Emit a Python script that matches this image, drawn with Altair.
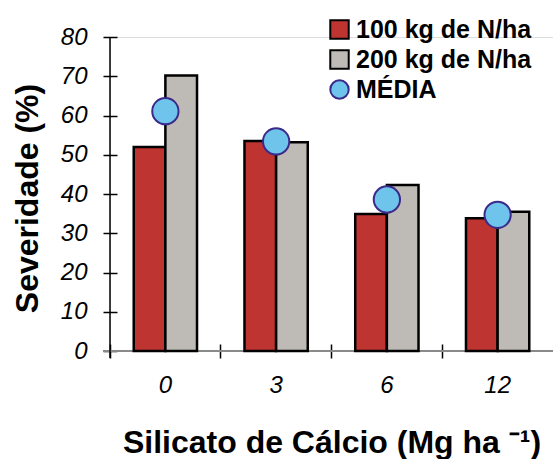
import altair as alt
import pandas as pd

categories = ["0", "3", "6", "12"]
series_names = ["100 kg de N/ha", "200 kg de N/ha"]
media_name = "MÉDIA"
n100 = [52.0, 53.5, 34.9, 33.8]
n200 = [70.2, 53.2, 42.3, 35.5]
media = [61.1, 53.4, 38.6, 34.7]
y_ticks = [0, 10, 20, 30, 40, 50, 60, 70, 80]

bars_df = pd.DataFrame(
    [{"cat": c, "serie": series_names[0], "valor": v} for c, v in zip(categories, n100)]
    + [{"cat": c, "serie": series_names[1], "valor": v} for c, v in zip(categories, n200)]
)
media_df = pd.DataFrame({"cat": categories, "serie": media_name, "valor": media})
zero_df = pd.DataFrame({"valor": [0]})

FONT = "Liberation Sans"
legend_domain = series_names + [media_name]

x_scale = alt.Scale(domain=categories, paddingInner=0, paddingOuter=0)
y_scale = alt.Scale(domain=[0, 80], nice=False)
color_scale = alt.Scale(domain=legend_domain, range=["#BE3430", "#BEBBB6", "#6EC4EA"])
stroke_scale = alt.Scale(domain=legend_domain, range=["#000000", "#000000", "#3B2A8A"])
shape_scale = alt.Scale(domain=legend_domain, range=["square", "square", "circle"])

legend = alt.Legend(
    title=None, orient="none", legendX=217, legendY=-20,
    labelFont=FONT, labelFontSize=25, labelFontWeight="bold", labelColor="black",
    symbolSize=340, symbolStrokeWidth=2, labelOffset=4, rowPadding=3, padding=0,
    labelLimit=400,
)

x_axis = alt.Axis(
    title="Silicato de Cálcio (Mg ha ⁻¹)", titleFont=FONT, titleFontSize=32,
    titleFontWeight="bold", titleColor="black", titleBaseline="alphabetic", titleY=108,
    labelFont=FONT, labelFontSize=24, labelFontStyle="italic", labelColor="black",
    labelAngle=0, labelPadding=15, bandPosition=0,
    offset=-7, tickSize=14, tickColor="black", tickWidth=1.5, domain=False, grid=False,
)
y_axis = alt.Axis(
    values=y_ticks, title="Severidade (%)", titleFont=FONT, titleFontSize=32,
    titleFontWeight="bold", titleColor="black", titleAngle=270, titleBaseline="alphabetic",
    titleX=-80, titleY=161, titleAlign="center",
    labelFont=FONT, labelFontSize=24, labelFontStyle="italic", labelColor="black",
    labelPadding=16, offset=-7, tickSize=14, tickColor="black", tickWidth=1.5,
    domain=False, grid=False,
)

xline = alt.Chart(zero_df).mark_rule(color="#8A8A8A", strokeWidth=2).encode(
    y=alt.Y("valor:Q", scale=y_scale, axis=y_axis),
    x=alt.value(-7), x2=alt.value(443),
)
yline = alt.Chart(zero_df).mark_rule(color="black", strokeWidth=1.5).encode(
    x=alt.value(0), y=alt.value(0), y2=alt.value(321),
)

bars = alt.Chart(bars_df).mark_bar(stroke="black", strokeWidth=2.5, opacity=1).encode(
    x=alt.X("cat:N", scale=x_scale, axis=x_axis, sort=categories),
    xOffset=alt.XOffset("serie:N", scale=alt.Scale(domain=series_names, paddingInner=0, paddingOuter=0.75)),
    y=alt.Y("valor:Q", scale=y_scale, axis=y_axis),
    fill=alt.Fill("serie:N", scale=color_scale, legend=legend),
)

points = alt.Chart(media_df).mark_point(filled=True, size=690, strokeWidth=2, opacity=1).encode(
    x=alt.X("cat:N", scale=x_scale, axis=x_axis, sort=categories),
    y=alt.Y("valor:Q", scale=y_scale, axis=y_axis),
    fill=alt.Fill("serie:N", scale=color_scale, legend=legend),
    stroke=alt.Stroke("serie:N", scale=stroke_scale, legend=legend),
    shape=alt.Shape("serie:N", scale=shape_scale, legend=legend),
)

chart = alt.layer(xline, yline, bars, points).properties(
    width=443, height=314,
    autosize=alt.AutoSizeParams(type="none"),
    padding={"left": 110, "top": 37, "right": 0, "bottom": 108},
).configure_view(strokeWidth=0).configure(background="white")

chart.save("out.html", embed_options={"renderer": "svg", "actions": False})
